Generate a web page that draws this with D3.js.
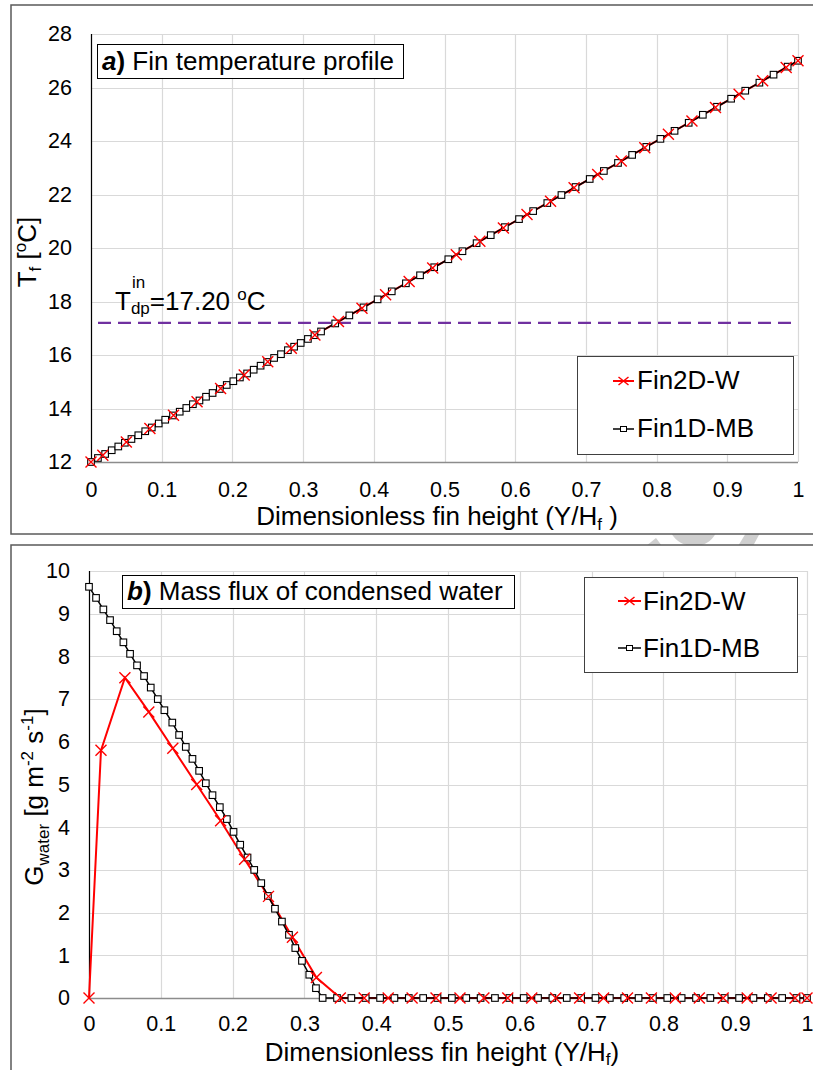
<!DOCTYPE html>
<html><head><meta charset="utf-8">
<script src="https://cdn.jsdelivr.net/npm/d3@7"></script>
<style>
body{margin:0;background:#fff}
svg{display:block}
text{font-family:"Liberation Sans",Arial,sans-serif;fill:#000}
</style>
</head><body>
<svg id="c" width="813" height="1070"></svg>
<script>
// ---------- data ----------
const xTicks = [0,0.1,0.2,0.3,0.4,0.5,0.6,0.7,0.8,0.9,1];
const xTickLabels = ["0","0.1","0.2","0.3","0.4","0.5","0.6","0.7","0.8","0.9","1"];
const tTicks = [12,14,16,18,20,22,24,26,28];
const gTicks = [0,1,2,3,4,5,6,7,8,9,10];
const seriesNames = ["Fin2D-W","Fin1D-MB"];
const dewPoint = 17.2;

// Fin2D-W (2D model, cell centres)
const xW = [0,0.0167,0.05,0.0833,0.1167,0.15,0.1833,0.2167,0.25,0.2833,0.3167,0.35,0.3833,0.4167,0.45,0.4833,0.5167,0.55,0.5833,0.6167,0.65,0.6833,0.7167,0.75,0.7833,0.8167,0.85,0.8833,0.9167,0.95,0.9833,1];
const tW = [12.00,12.25,12.75,13.25,13.75,14.25,14.75,15.25,15.75,16.25,16.75,17.25,17.75,18.25,18.75,19.25,19.75,20.25,20.75,21.25,21.75,22.25,22.75,23.25,23.75,24.25,24.75,25.25,25.75,26.25,26.75,27.00];
const gW = [0,5.8,7.5,6.7,5.85,5.0,4.15,3.25,2.38,1.42,0.48,0,0,0,0,0,0,0,0,0,0,0,0,0,0,0,0,0,0,0,0,0];

// Fin1D-MB (1D model nodes: wet zone then dry zone)
const xMB = [0,0.0098,0.02,0.0293,0.0386,0.0479,0.0572,0.0669,0.0767,0.086,0.0958,0.105,0.116,0.1255,0.1348,0.1441,0.1534,0.1627,0.172,0.1822,0.192,0.2013,0.2106,0.2208,0.2301,0.2399,0.2492,0.259,0.2687,0.2785,0.2873,0.2966,0.3068,0.3161,0.3254,
  0.3454,0.3654,0.3854,0.4054,0.4254,0.4454,0.4654,0.4854,0.5054,0.5254,0.5454,0.5654,0.5854,0.6054,0.6254,0.6454,0.6654,0.6854,0.7054,0.7254,0.7454,0.7654,0.7854,0.8054,0.8254,0.8454,0.8654,0.8854,0.9054,0.9254,0.9454,0.9654,0.9854,1];
const tMB = [12.00,12.15,12.30,12.44,12.58,12.72,12.86,13.00,13.15,13.29,13.44,13.58,13.74,13.88,14.02,14.16,14.30,14.44,14.58,14.73,14.88,15.02,15.16,15.31,15.45,15.60,15.74,15.89,16.03,16.18,16.31,16.45,16.60,16.74,16.88,
  17.18,17.48,17.78,18.08,18.38,18.68,18.98,19.28,19.58,19.88,20.18,20.48,20.78,21.08,21.38,21.68,21.98,22.28,22.58,22.88,23.18,23.48,23.78,24.08,24.38,24.68,24.98,25.28,25.58,25.88,26.18,26.48,26.78,27.00];
const gMB = [9.63,9.37,9.10,8.85,8.59,8.33,8.06,7.79,7.54,7.27,7.00,6.74,6.45,6.16,5.88,5.60,5.32,5.03,4.75,4.47,4.19,3.89,3.59,3.29,3.00,2.69,2.39,2.09,1.79,1.48,1.17,0.87,0.545,0.23,0,
  0,0,0,0,0,0,0,0,0,0,0,0,0,0,0,0,0,0,0,0,0,0,0,0,0,0,0,0,0,0,0,0,0,0];

// ---------- drawing ----------
const FONT = '"Liberation Sans",Arial,sans-serif';
const svg = d3.select("#c");
const RED = "#ff0000", PURPLE = "#7030a0", GRID = "#d9d9d9";

// watermark fragments visible between the panels
svg.append("path").attr("fill","#cfcfcf")
  .attr("d","M646,546 L656,538 L662,546 Z M671,533 L716,533 Q709,546 694,546 Q679,546 671,533 Z M738,546 L746,533 L760,533 L753,546 Z");

// panel frames
svg.append("rect").attr("x",11).attr("y",5).attr("width",830).attr("height",529)
  .attr("fill","#fff").attr("stroke","#5a5a5a").attr("stroke-width",1.5);
svg.append("rect").attr("x",11).attr("y",545).attr("width",830).attr("height",540)
  .attr("fill","#fff").attr("stroke","#5a5a5a").attr("stroke-width",1.5);

function drawChart(cfg){
  const x = d3.scaleLinear().domain([0,1]).range([cfg.l,cfg.r]);
  const y = d3.scaleLinear().domain(cfg.yDomain).range([cfg.b,cfg.t]);
  const g = svg.append("g");
  // grid
  g.append("g").selectAll("line").data(cfg.yTicks).join("line")
    .attr("x1",cfg.l).attr("x2",cfg.r)
    .attr("y1",d=>Math.round(y(d))+0.5).attr("y2",d=>Math.round(y(d))+0.5)
    .attr("stroke",GRID).attr("stroke-width",1.2);
  g.append("g").selectAll("line").data(xTicks).join("line")
    .attr("y1",cfg.t).attr("y2",cfg.b)
    .attr("x1",d=>Math.round(x(d))+0.5).attr("x2",d=>Math.round(x(d))+0.5)
    .attr("stroke",GRID).attr("stroke-width",1.2);
  // axes (labels)
  const ax = d3.axisBottom(x).tickValues(xTicks).tickFormat((d,i)=>xTickLabels[i]).tickSize(0).tickPadding(cfg.xPad);
  g.append("g").attr("transform",`translate(0,${cfg.b})`).call(ax)
    .attr("font-size",21.5).attr("font-family",FONT)
    .call(a=>a.select(".domain").remove())
    .selectAll("text").attr("fill","#000");
  const ay = d3.axisLeft(y).tickValues(cfg.yTicks).tickFormat(d3.format("d")).tickSize(0).tickPadding(19);
  g.append("g").attr("transform",`translate(${cfg.l},0)`).call(ay)
    .attr("font-size",21.5).attr("font-family",FONT)
    .call(a=>a.select(".domain").remove())
    .selectAll("text").attr("fill","#000");
  // axis lines
  g.append("line").attr("x1",cfg.l).attr("x2",cfg.r).attr("y1",Math.round(cfg.b)+0.5).attr("y2",Math.round(cfg.b)+0.5)
    .attr("stroke","#8c8c8c").attr("stroke-width",1.5);
  g.append("line").attr("x1",Math.round(cfg.l)+0.5).attr("x2",Math.round(cfg.l)+0.5).attr("y1",cfg.t).attr("y2",cfg.b)
    .attr("stroke","#000").attr("stroke-width",1.2);
  return {x,y,g};
}

function drawSeries(ch, yW, yMB){
  const {x,y,g} = ch;
  const line = d3.line().x(d=>x(d[0])).y(d=>y(d[1]));
  const dW = d3.zip(xW,yW), dMB = d3.zip(xMB,yMB);
  g.append("path").datum(dW).attr("d",line).attr("fill","none").attr("stroke",RED).attr("stroke-width",2);
  g.append("path").datum(dMB).attr("d",line).attr("fill","none").attr("stroke","#000").attr("stroke-width",1.5);
  g.append("g").selectAll("rect").data(dMB).join("rect")
    .attr("x",d=>x(d[0])-3.3).attr("y",d=>y(d[1])-3.3).attr("width",6.6).attr("height",6.6)
    .attr("fill","#fff").attr("stroke","#000").attr("stroke-width",1.1);
  g.append("g").selectAll("path").data(dW).join("path")
    .attr("transform",d=>`translate(${x(d[0])},${y(d[1])})`)
    .attr("d","M-5.5,-5.5L5.5,5.5M-5.5,5.5L5.5,-5.5").attr("stroke",RED).attr("stroke-width",1.4).attr("fill","none");
}

function titleBox(bx,by,bw,bh,tx,ty,letter,rest){
  svg.append("rect").attr("x",bx+0.5).attr("y",by+0.5).attr("width",bw).attr("height",bh)
    .attr("fill","#fff").attr("stroke","#000").attr("stroke-width",1);
  const t = svg.append("text").attr("x",tx).attr("y",ty).style("font-size","26px");
  t.append("tspan").style("font-weight","bold").style("font-style","italic").text(letter);
  t.append("tspan").style("font-weight","bold").text(")");
  t.append("tspan").text(" "+rest);
}

function legend(bx,by,bw,bh,lx1,lx2,tx,rows){
  svg.append("rect").attr("x",bx+0.5).attr("y",by+0.5).attr("width",bw).attr("height",bh)
    .attr("fill","#fff").attr("stroke","#404040").attr("stroke-width",1);
  rows.forEach((r,i)=>{
    const col = i===0?RED:"#000";
    svg.append("line").attr("x1",lx1).attr("x2",lx2).attr("y1",r.y).attr("y2",r.y)
      .attr("stroke",col).attr("stroke-width",i===0?2:1.5);
    const cx=(lx1+lx2)/2;
    if(i===0){
      svg.append("path").attr("transform",`translate(${cx},${r.y})`).attr("d","M-5,-4L5,4M-5,4L5,-4")
        .attr("stroke",RED).attr("stroke-width",1.5).attr("fill","none");
    } else {
      svg.append("rect").attr("x",cx-3).attr("y",r.y-2.5).attr("width",6).attr("height",5)
        .attr("fill","#fff").attr("stroke","#000").attr("stroke-width",1);
    }
    svg.append("text").attr("x",tx).attr("y",r.base).style("font-size","26px").text(seriesNames[i]);
  });
}

// ---------- chart a ----------
const A = drawChart({l:91,r:798,t:34,b:462,yDomain:[12,28],yTicks:tTicks,xPad:19.5});
// dew point line
A.g.append("line").attr("x1",A.x(0)).attr("x2",A.x(1)).attr("y1",A.y(dewPoint)).attr("y2",A.y(dewPoint))
  .attr("stroke",PURPLE).attr("stroke-width",2.2).attr("stroke-dasharray","13,7").attr("stroke-dashoffset",13);
drawSeries(A, tW, tMB);

// dew point label
{
  const t = svg.append("text").attr("x",115).attr("y",310).style("font-size","26px");
  t.append("tspan").text("T");
  const tw = t.node().getComputedTextLength();
  t.append("tspan").attr("dy",4).style("font-size","17px").text("dp");
  t.append("tspan").attr("dy",-4).text("="+dewPoint.toFixed(2)+" ");
  t.append("tspan").attr("dy",-10).style("font-size","17px").text("o");
  t.append("tspan").attr("dy",10).text("C");
  svg.append("text").attr("x",115+tw+1).attr("y",288).style("font-size","17px").text("in");
}

titleBox(97,44,306,34,102,70,"a","Fin temperature profile");
legend(577,356,216,98,613,634,637,[{y:381,base:389},{y:429,base:437}]);

// axis titles a
{
  const t = svg.append("text").attr("transform","translate(437,525)").attr("text-anchor","middle").style("font-size","26px");
  t.append("tspan").text("Dimensionless fin height (Y/H");
  t.append("tspan").attr("dy",5).style("font-size","17px").text("f");
  t.append("tspan").attr("dy",-5).text(" )");
  const y = svg.append("text").attr("transform","translate(36,252) rotate(-90)").attr("text-anchor","middle").style("font-size","26px");
  y.append("tspan").text("T");
  y.append("tspan").attr("dy",5).style("font-size","17px").text("f");
  y.append("tspan").attr("dy",-5).text(" [");
  y.append("tspan").attr("dy",-10).style("font-size","17px").text("o");
  y.append("tspan").attr("dy",10).text("C]");
}

// ---------- chart b ----------
const B = drawChart({l:89,r:807,t:571,b:998,yDomain:[0,10],yTicks:gTicks,xPad:18});
drawSeries(B, gW, gMB);
titleBox(122,575,392,33,127,600,"b","Mass flux of condensed water");
legend(584,577,213,95,618,641,643,[{y:601,base:610},{y:648,base:657}]);
{
  const t = svg.append("text").attr("transform","translate(442,1061)").attr("text-anchor","middle").style("font-size","26px");
  t.append("tspan").text("Dimensionless fin height (Y/H");
  t.append("tspan").attr("dy",4).style("font-size","17px").text("f");
  t.append("tspan").attr("dy",-4).text(")");
  const y = svg.append("text").attr("transform","translate(43,797) rotate(-90)").attr("text-anchor","middle").style("font-size","26px");
  y.append("tspan").text("G");
  y.append("tspan").attr("dy",6).style("font-size","17px").text("water");
  y.append("tspan").attr("dy",-6).text(" [g m");
  y.append("tspan").attr("dy",-10).style("font-size","17px").text("-2");
  y.append("tspan").attr("dy",10).text(" s");
  y.append("tspan").attr("dy",-10).style("font-size","17px").text("-1");
  y.append("tspan").attr("dy",10).text("]");
}
</script>
</body></html>
